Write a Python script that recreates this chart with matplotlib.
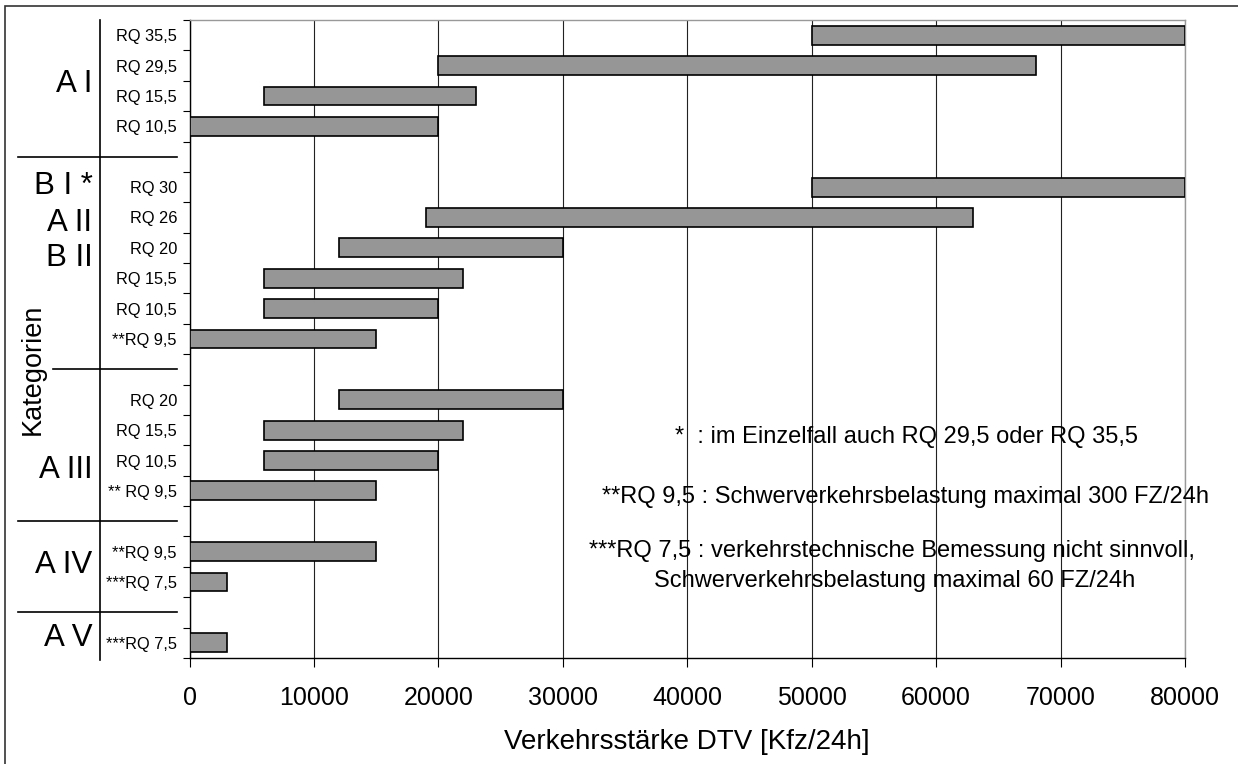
import matplotlib
matplotlib.use("Agg")
import matplotlib.pyplot as plt
from matplotlib.patches import Rectangle
from matplotlib.lines import Line2D
import numpy as np

plt.rcParams['font.family'] = ['Liberation Sans', 'DejaVu Sans']

# rows from top to bottom, "" = empty spacer row
row_labels = ["RQ 35,5", "RQ 29,5", "RQ 15,5", "RQ 10,5", "",
              "RQ 30", "RQ 26", "RQ 20", "RQ 15,5", "RQ 10,5", "**RQ 9,5", "",
              "RQ 20", "RQ 15,5", "RQ 10,5", "** RQ 9,5", "",
              "**RQ 9,5", "***RQ 7,5", "",
              "***RQ 7,5"]
dtv_from = [50000, 20000, 6000, 0, None,
            50000, 19000, 12000, 6000, 6000, 0, None,
            12000, 6000, 6000, 0, None,
            0, 0, None,
            0]
dtv_to = [80000, 68000, 23000, 20000, None,
          80000, 63000, 30000, 22000, 20000, 15000, None,
          30000, 22000, 20000, 15000, None,
          15000, 3000, None,
          3000]

group_labels = ["A I", "B I *", "A II", "B II", "A III", "A IV", "A V"]
group_rows = [1.6, 4.96, 6.18, 7.33, 14.3, 17.44, 19.83]
separator_rows = [4, 11, 16, 19]

notes = ["*  : im Einzelfall auch RQ 29,5 oder RQ 35,5",
         "**RQ 9,5 : Schwerverkehrsbelastung maximal 300 FZ/24h",
         "***RQ 7,5 : verkehrstechnische Bemessung nicht sinnvoll,",
         "Schwerverkehrsbelastung maximal 60 FZ/24h"]

xticks = np.arange(0, 80001, 10000)

fig = plt.figure(figsize=(12.38, 7.64), dpi=100)
W, H = 1238, 764
ax = fig.add_axes([189.5 / W, 1 - 658 / H, (1185 - 189.5) / W, (658 - 20) / H])

y = np.arange(len(row_labels))
for i, (a, b) in enumerate(zip(dtv_from, dtv_to)):
    if a is None:
        continue
    ax.barh(y[i], b - a, left=a, height=0.62, color="#969696",
            edgecolor="black", linewidth=1.2, zorder=3)

ax.set_xlim(0, 80000)
ax.set_ylim(len(row_labels) - 0.5, -0.5)
ax.set_xticks(xticks)
ax.set_xticklabels([str(v) for v in xticks], fontsize=18)
ax.tick_params(axis='x', length=6.5, width=0.8, pad=14, direction='out')
ax.set_yticks(y)
ax.set_yticklabels(row_labels, fontsize=11.8)
ax.tick_params(axis='y', which='major', length=0, pad=9)
ax.set_yticks(np.arange(-0.5, len(row_labels) + 0.5, 1), minor=True)
ax.tick_params(axis='y', which='minor', length=5, width=0.8, direction='out')
ax.grid(axis='x', color='#222222', linewidth=0.8, zorder=0)
ax.set_axisbelow(True)
ax.set_xlabel("Verkehrsstärke DTV [Kfz/24h]", fontsize=20, labelpad=13)

for s in ['top', 'right']:
    ax.spines[s].set_color('#999999')
    ax.spines[s].set_linewidth(1.0)
for s in ['left', 'bottom']:
    ax.spines[s].set_color('black')
    ax.spines[s].set_linewidth(1.0)

tr = ax.get_yaxis_transform()
# group labels
for lab, r in zip(group_labels, group_rows):
    ax.text(-0.0975, r, lab, transform=tr, ha='right', va='center', fontsize=22.5)

# vertical divider and group separators
ax.add_line(Line2D([-0.0899, -0.0899], [-0.5, 20.55], transform=tr,
                   color='black', linewidth=1.2, clip_on=False))
for k, r in enumerate(separator_rows):
    x0 = -0.1371 if k == 1 else -0.1723
    ax.add_line(Line2D([x0, -0.0126], [r, r], transform=tr,
                       color='black', linewidth=1.2, clip_on=False))

ax.text(-0.157, 11, "Kategorien", transform=tr, rotation=90,
        ha='center', va='center', fontsize=19.5)

# notes
ax.text(57600, 13.23, notes[0], ha='center', va='center', fontsize=17)
ax.text(57500, 15.2, notes[1], ha='center', va='center', fontsize=17, clip_on=False)
ax.text(32100, 16.98, notes[2], ha='left', va='center', fontsize=17, clip_on=False)
ax.text(37300, 17.97, notes[3], ha='left', va='center', fontsize=17, clip_on=False)

# outer frame (left and top edges visible)
fig.patches.append(Rectangle((5 / W, -0.05), 1.2, 1 - 6 / H + 0.05,
                             transform=fig.transFigure, fill=False,
                             edgecolor='#333333', linewidth=1.2))

fig.savefig("out.png", dpi=100)
